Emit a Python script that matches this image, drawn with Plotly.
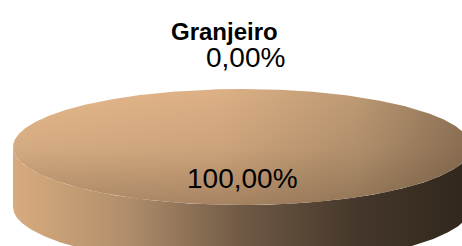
import numpy as np
import plotly.graph_objects as go

# ---- data ----
chart_title = "Granjeiro"
categories = ["Categoria A", "Categoria B"]
values = [0.0, 100.0]

# ---- layout constants (pixels) ----
W, H = 462, 246
CX, CY, RX, RY, DEPTH = 242, 147, 229, 58, 60
START_ANGLE = 90.0

FONT = "Liberation Sans, Arial, sans-serif"

side_scale = [[0, "#D8AB7E"], [0.25, "#B08E6B"], [0.5, "#6F5945"],
              [0.75, "#45372A"], [1, "#30261C"]]
top_scale = [[0, "#E6B98C"], [0.45, "#DDB085"], [0.75, "#BE9A74"], [1, "#8E7256"]]
shade_scale = [[0, "rgba(60,45,30,0)"], [0.5, "rgba(60,45,30,0.10)"], [1, "rgba(60,45,30,0.34)"]]


def pt(t, dy=0.0):
    return CX + RX * np.cos(t), CY - RY * np.sin(t) + dy


fig = go.Figure()
total = sum(values)
ang = START_ANGLE
label_ann = []
for cat, v in zip(categories, values):
    sweep = 360.0 * v / total
    a0, a1 = ang, ang - sweep
    ang = a1
    share = 100.0 * v / total
    text = f"{share:.2f}".replace(".", ",") + "%"
    mid = np.radians((a0 + a1) / 2)
    if share < 5:
        lx, ly = CX + 3 + RX * np.cos(mid), CY - 1.55 * RY * np.sin(mid)
    else:
        lx, ly = CX + 0.55 * RX * np.cos(mid), CY - 0.55 * RY * np.sin(mid)
    label_ann.append((lx, ly, text))
    if sweep <= 0:
        continue
    # side (front half only)
    for shift in (0, 360, -360):
        lo, hi = max(a1 + shift, -180), min(a0 + shift, 0)
        if lo < hi:
            t = np.radians(np.linspace(hi, lo, 300))
            xs, ys = pt(t)
            xb, yb = pt(t[::-1], DEPTH)
            fig.add_trace(go.Scatter(
                x=np.concatenate([xs, xb]), y=np.concatenate([ys, yb]),
                fill="toself", mode="lines", line=dict(width=0),
                fillcolor="#8A6D52",
                fillgradient=dict(type="horizontal", colorscale=side_scale),
                hoverinfo="skip", showlegend=False))
    # top face
    t = np.radians(np.linspace(a0, a1, 721))
    xs, ys = pt(t)
    if sweep < 360:
        xs = np.concatenate([[CX], xs, [CX]])
        ys = np.concatenate([[CY], ys, [CY]])
    fig.add_trace(go.Scatter(
        x=xs, y=ys, fill="toself", mode="lines", line=dict(width=0),
        fillcolor="#D5AA80",
        fillgradient=dict(type="horizontal", colorscale=top_scale),
        hoverinfo="skip", showlegend=False, name=cat))
    fig.add_trace(go.Scatter(
        x=xs, y=ys, fill="toself", mode="lines", line=dict(width=0),
        fillcolor="rgba(0,0,0,0)",
        fillgradient=dict(type="vertical", colorscale=shade_scale,
                          start=CY - RY, stop=CY + RY),
        hoverinfo="skip", showlegend=False))

for lx, ly, text in label_ann:
    fig.add_annotation(x=lx, y=ly, text=text, showarrow=False,
                       xanchor="center", yanchor="middle",
                       font=dict(family=FONT, size=28, color="#000000"))

fig.add_annotation(x=224, y=31, text="<b>" + chart_title + "</b>", showarrow=False,
                   xanchor="center", yanchor="middle",
                   font=dict(family=FONT, size=24, color="#000000"))

fig.update_layout(
    width=W, height=H, margin=dict(l=0, r=0, t=0, b=0),
    paper_bgcolor="white", plot_bgcolor="white",
    xaxis=dict(range=[0, W], visible=False, fixedrange=True),
    yaxis=dict(range=[H, 0], visible=False, fixedrange=True),
    showlegend=False,
)
fig.write_html("out.html", config={"displayModeBar": False},
               post_script="document.body.style.margin='0';document.body.style.overflow='hidden';")
